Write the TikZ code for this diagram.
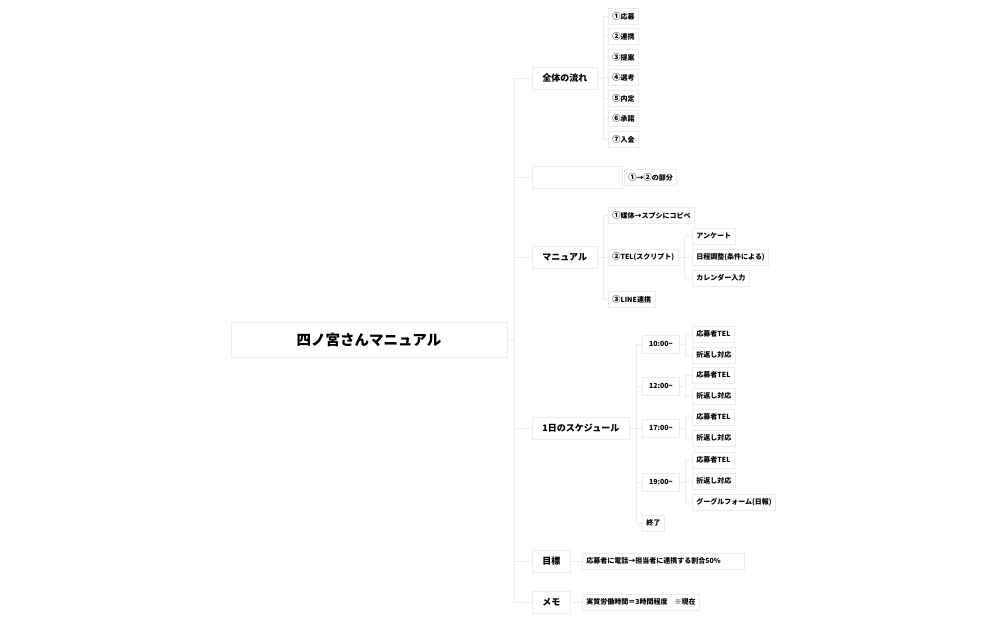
\documentclass[tikz,border=0pt]{standalone}
\usepackage{fontspec}
\setmainfont{Noto Sans CJK JP}
\usetikzlibrary{positioning}

% Kreisziffern etwas groesser
\newcommand\maru[1]{{\fontsize{8.2}{9}\selectfont #1}}

\tikzset{
  box/.style={draw=gray!15, line width=0.8pt, fill=white, anchor=west,
    font=\bfseries\fontsize{7}{8}\selectfont, inner xsep=4pt, inner ysep=0pt, minimum height=16pt},
  topic/.style={box, font=\bfseries\fontsize{9}{10}\selectfont, inner xsep=10pt, minimum height=22pt},
  timebox/.style={box, minimum width=37pt, minimum height=18pt},
  rootbox/.style={box, anchor=center, font=\bfseries\fontsize{14.5}{16}\selectfont,
    minimum width=276pt, minimum height=35pt},
  link/.style={draw=gray!15, line width=0.8pt},
}

\begin{document}
\begin{tikzpicture}[x=1pt, y=-1pt]
    \useasboundingbox (0,0) rectangle (1004,622);

    % Mittelpunkt
    \node[rootbox] (root) at (369,340) {四ノ宮さんマニュアル};

    % Hauptthemen
    \node[topic] (flow) at (532,78) {全体の流れ};
    \node[topic, minimum width=90pt] (blank) at (532,177) {};
    \node[topic] (manual) at (532,257) {マニュアル};
    \node[topic] (day) at (532,428) {1日のスケジュール};
    \node[topic] (goal) at (532,561) {目標};
    \node[topic] (memo) at (532,602) {メモ};

    \draw[link] (root.east) -- ++(7,0) coordinate (trunk);
    \foreach \n in {flow,blank,manual,day,goal,memo}
        \draw[link] (trunk) |- (\n.west);

    % Ablauf
    \draw[link] (flow.east) -- ++(6,0) coordinate (fb);
    \foreach \t/\k [count=\i] in {①/応募,②/連携,③/提案,④/選考,⑤/内定,⑥/承諾,⑦/入金} {
        \node[box] (flow\i) at (608,16+20.5*\i-20.5) {\maru{\t}\k};
        \draw[link] (fb) |- (flow\i.west);
    }

    % leerer Kasten
    \node[box] (part) at (624,177) {\maru{①}→\maru{②}の部分};

    % Handbuch
    \node[box] (m1) at (608,215) {\maru{①}媒体→スプシにコピペ};
    \node[box] (m2) at (608,257) {\maru{②}TEL(スクリプト)};
    \node[box] (m3) at (608,299) {\maru{③}LINE連携};
    \draw[link] (manual.east) -- ++(6,0) coordinate (mb);
    \foreach \n in {m1,m2,m3}
        \draw[link] (mb) |- (\n.west);

    \node[box] (tel1) at (692,236) {アンケート};
    \node[box] (tel2) at (692,257) {日程調整(条件による)};
    \node[box] (tel3) at (692,278) {カレンダー入力};
    \draw[link] (m2.east) -- ++(6,0) coordinate (tb);
    \foreach \n in {tel1,tel2,tel3}
        \draw[link] (tb) |- (\n.west);

    % Tagesplan
    \node[timebox] (t10) at (642,344) {10:00\textasciitilde};
    \node[timebox] (t12) at (642,386) {12:00\textasciitilde};
    \node[timebox] (t17) at (642,428) {17:00\textasciitilde};
    \node[timebox] (t19) at (642,482) {19:00\textasciitilde};
    \node[box] (end) at (642,523) {終了};
    \draw[link] (day.east) -- ++(7,0) coordinate (db);
    \foreach \n in {t10,t12,t17,t19,end}
        \draw[link] (db) |- (\n.west);

    \foreach \n/\y in {t10/334,t12/375,t17/417,t19/460} {
        \node[box] (\n a) at (692,\y) {応募者TEL};
        \node[box] (\n b) at (692,\y+21) {折返し対応};
        \draw[link] (\n.east) -- ++(6,0) coordinate (\n c);
        \draw[link] (\n c) |- (\n a.west);
        \draw[link] (\n c) |- (\n b.west);
    }
    \node[box] (t19d) at (692,502) {グーグルフォーム(日報)};
    \draw[link] (t19c) |- (t19d.west);

    % Ziel und Notiz
    \node[box, text width=154pt] (goaltxt) at (582,561) {応募者に電話→担当者に連携する割合50\%};
    \draw[link] (goal.east) -- (goaltxt.west);
    \node[box] (memotxt) at (582,602) {実質労働時間＝3時間程度\quad ※現在};
    \draw[link] (memo.east) -- (memotxt.west);
\end{tikzpicture}
\end{document}
